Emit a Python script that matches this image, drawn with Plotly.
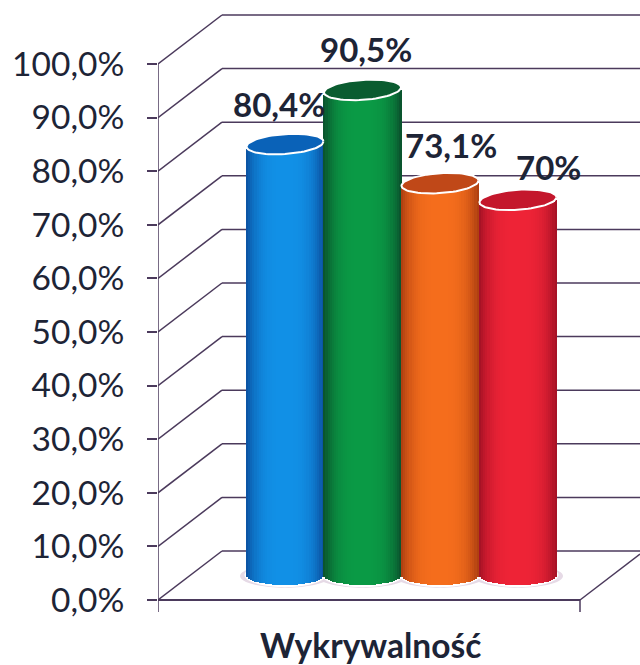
import math
import plotly.graph_objects as go

# --- data ---
category = "Wykrywalność"
values = [80.4, 90.5, 73.1, 70.0]
value_labels = ["80,4%", "90,5%", "73,1%", "70%"]
tick_values = [0, 10, 20, 30, 40, 50, 60, 70, 80, 90, 100]
tick_labels = ["0,0%", "10,0%", "20,0%", "30,0%", "40,0%", "50,0%", "60,0%",
               "70,0%", "80,0%", "90,0%", "100,0%"]

# --- style / layout constants ---
edge_colors = ["#0a4e9e", "#0a4f2c", "#a93c10", "#a01024"]
mid_colors = ["#1190e6", "#0a9a45", "#f56d1c", "#ee2336"]
top_colors = ["#0a62b8", "#0a5c30", "#c04818", "#c4172c"]
centers = [127, 204.5, 282, 360]       # x units = pixels right of the axis
half_width = 39
label_dx = [-6, 3, 11, 30]
label_dy = [40, 41, 38, 33]
PX = 5.36                              # pixels per percentage point
DEPTH_X, DEPTH_Y = 64, 49 / PX
FLOOR_W = 422
BASE = 25 / PX
E = 10 / PX
TILT = 2.5 / PX
N = 36
INK = "#1d2436"
GRID = "#4b3a5c"


def hex2rgb(h):
    return [int(h[i:i + 2], 16) for i in (1, 3, 5)]


def shade(edge, mid, t):
    a, b = hex2rgb(edge), hex2rgb(mid)
    k = (1 - abs(t) ** 3.2)
    return "rgb(%d,%d,%d)" % tuple(round(a[i] + (b[i] - a[i]) * k) for i in range(3))


def ell_path(cx, cy, rx, ry, tilt=0.0):
    pts = []
    for i in range(72):
        a = 2 * math.pi * i / 72
        pts.append((cx + rx * math.cos(a), cy + ry * math.sin(a) + tilt * math.cos(a)))
    return pts


def to_svg(pts):
    return "M " + " L ".join(f"{x:.2f},{y:.3f}" for x, y in pts) + " Z"


shapes = []
line = lambda x0, y0, x1, y1, w=1.5, c=GRID: dict(
    type="line", xref="x", yref="y", x0=x0, y0=y0, x1=x1, y1=y1,
    layer="below", line=dict(color=c, width=w))

for v in tick_values:
    shapes.append(line(0, v, DEPTH_X, v + DEPTH_Y))
    shapes.append(line(DEPTH_X, v + DEPTH_Y, 482, v + DEPTH_Y))
shapes.append(line(0, 0, 0, 100))
shapes.append(line(0, 0, 0, -12 / PX))
shapes.append(line(0, 0, FLOOR_W, 0, 2))
shapes.append(line(FLOOR_W, 0, FLOOR_W, -12 / PX))
shapes.append(line(FLOOR_W, 0, 482, DEPTH_Y * 60 / DEPTH_X))

for cx in centers:
    shapes.append(dict(type="path", xref="x", yref="y", layer="below",
                       path=to_svg(ell_path(cx, BASE - 0.2, half_width + 6, E + 0.3)),
                       fillcolor="#e6dae6", line=dict(width=0)))
for cx in centers:
    shapes.append(dict(type="path", xref="x", yref="y", layer="below",
                       path=to_svg(ell_path(cx, BASE, half_width + 1.5, E + 0.4)),
                       fillcolor="white", line=dict(width=0)))

fig = go.Figure()

for cx, v, ec, mc, tc in zip(centers, values, edge_colors, mid_colors, top_colors):
    xs, bases, heights, cols, widths = [], [], [], [], []
    step = 2 * half_width / N
    for i in range(N):
        x = cx - half_width + (i + 0.5) * step
        t = (x - cx) / half_width
        s = math.sqrt(max(0, 1 - t * t))
        b = BASE - E * s
        top = BASE + v - E * s + TILT * t
        xs.append(x)
        bases.append(b)
        heights.append(top - b)
        cols.append(shade(ec, mc, t))
        widths.append(step + 0.5)
    fig.add_bar(x=xs, y=heights, base=bases, width=widths,
                marker=dict(color=cols, line=dict(width=0)),
                hoverinfo="skip", showlegend=False)

for cx, v, tc in zip(centers, values, top_colors):
    pts = ell_path(cx, BASE + v, half_width - 0.5, E, TILT)
    pts.append(pts[0])
    fig.add_scatter(x=[p[0] for p in pts], y=[p[1] for p in pts], mode="lines",
                    fill="toself", fillcolor=tc, line=dict(color="white", width=2),
                    hoverinfo="skip", showlegend=False)

annotations = [
    dict(x=cx, y=BASE + v, text=lab, xref="x", yref="y", showarrow=False,
         xshift=dx, yshift=dy, font=dict(family="Lato", size=33, color=INK, weight="bold"))
    for cx, v, lab, dx, dy in zip(centers, values, value_labels, label_dx, label_dy)
]
annotations.append(dict(x=FLOOR_W / 2 + 1, y=-44.5 / PX, text=category, xref="x", yref="y",
                        showarrow=False,
                        font=dict(family="Lato", size=33.5, color=INK, weight="bold")))

fig.update_layout(
    width=640, height=665,
    margin=dict(l=158, r=0, t=0, b=0, pad=0),
    paper_bgcolor="white", plot_bgcolor="white",
    barmode="overlay", bargap=0,
    showlegend=False,
    shapes=shapes, annotations=annotations,
    xaxis=dict(range=[0, 482], visible=False, fixedrange=True),
    yaxis=dict(range=[-65 / PX, 64 / PX + 100], tickmode="array",
               tickvals=tick_values, ticktext=tick_labels,
               showgrid=False, zeroline=False, showline=False,
               ticks="outside", ticklen=10, tickwidth=1.5, tickcolor=GRID, ticklabelstandoff=16,
               tickfont=dict(family="Lato", size=33.5, color=INK), fixedrange=True),
)

fig.write_html("out.html", config=dict(displayModeBar=False),
               post_script="document.body.style.margin='0';document.documentElement.style.overflow='hidden';")
